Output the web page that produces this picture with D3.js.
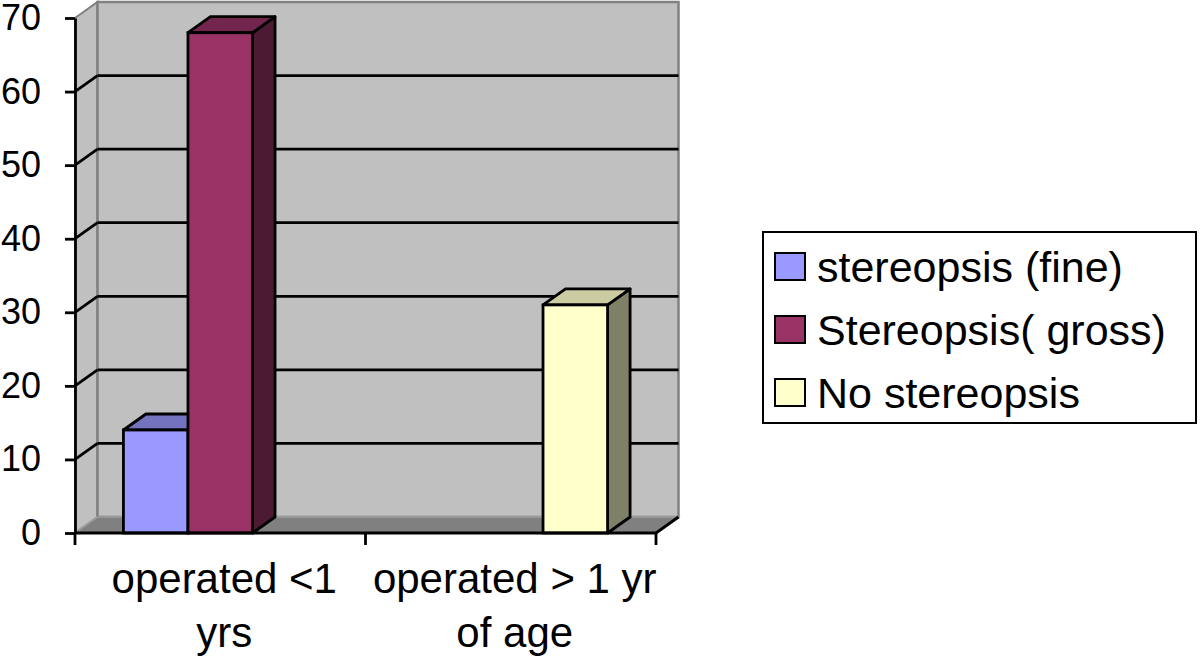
<!DOCTYPE html>
<html>
<head>
<meta charset="utf-8">
<script src="https://cdn.jsdelivr.net/npm/d3@7"></script>
<style>
  body { margin: 0; background: #fff; }
  text { font-family: "Liberation Sans", Arial, sans-serif; fill: #000; }
</style>
</head>
<body>
<script>
// chart data
var categories = ["operated <1 yrs", "operated > 1 yr of age"];
var categoryLines = [["operated <1", "yrs"], ["operated > 1 yr", "of age"]];
var seriesNames = ["stereopsis (fine)", "Stereopsis( gross)", "No stereopsis"];
var fineValues = [14, 0];
var grossValues = [68, 0];
var noValues = [0, 31];
var yTicks = [0, 10, 20, 30, 40, 50, 60, 70];

// colours: front, top, side
var colors = [
  {front: "#9999ff", top: "#7373bf", side: "#4d4d80"},
  {front: "#993366", top: "#73264d", side: "#4d1a33"},
  {front: "#ffffcc", top: "#cccca3", side: "#808066"}
];

var width = 1200, height = 662;
var plotLeft = 75, plotRight = 656, plotBottom = 533, plotTop = 18;
var dx = 22.5, dy = -16;   // depth offset of the 3d box
var lw = 2.8;              // black line width

var svg = d3.select("body").append("svg")
    .attr("width", width)
    .attr("height", height);

var y = d3.scaleLinear().domain([0, 70]).range([plotBottom, plotTop]);
var x0 = d3.scaleBand().domain(categories).range([plotLeft, plotRight]).padding(0);
var x1 = d3.scaleBand().domain(seriesNames).range([0, x0.bandwidth()])
    .paddingInner(0).paddingOuter(0.75);

// walls
svg.append("polygon")
    .attr("points", [[plotLeft, y(70)], [plotLeft + dx, y(70) + dy], [plotLeft + dx, plotBottom + dy], [plotLeft, plotBottom]].join(" "))
    .attr("fill", "#c0c0c0").attr("stroke", "#808080").attr("stroke-width", 2);
svg.append("rect")
    .attr("x", plotLeft + dx).attr("y", y(70) + dy)
    .attr("width", plotRight - plotLeft).attr("height", plotBottom - y(70))
    .attr("fill", "#c0c0c0").attr("stroke", "#808080").attr("stroke-width", 2.5);

// floor
svg.append("polygon")
    .attr("points", [[plotLeft, plotBottom], [plotLeft + dx, plotBottom + dy], [plotRight + dx, plotBottom + dy], [plotRight, plotBottom]].join(" "))
    .attr("fill", "#808080").attr("stroke", "#a0a0a0").attr("stroke-width", 1.5);
svg.append("line")
    .attr("x1", plotRight).attr("y1", plotBottom).attr("x2", plotRight + dx).attr("y2", plotBottom + dy)
    .attr("stroke", "#000").attr("stroke-width", lw);

// gridlines (back wall + side wall diagonals)
var grid = svg.append("g");
yTicks.filter(function(t) { return t > 0 && t < 70; }).forEach(function(t) {
  grid.append("line")
      .attr("x1", plotLeft + dx).attr("x2", plotRight + dx)
      .attr("y1", y(t) + dy).attr("y2", y(t) + dy)
      .attr("stroke", "#000").attr("stroke-width", lw);
  grid.append("line")
      .attr("x1", plotLeft).attr("x2", plotLeft + dx)
      .attr("y1", y(t)).attr("y2", y(t) + dy)
      .attr("stroke", "#000").attr("stroke-width", lw);
});

// bars
var allValues = [fineValues, grossValues, noValues];
var bars = [];
categories.forEach(function(c, i) {
  seriesNames.forEach(function(s, j) {
    if (allValues[j][i] > 0) bars.push({cat: c, series: s, idx: j, value: allValues[j][i]});
  });
});

var bar = svg.selectAll(".bar").data(bars).enter().append("g").attr("class", "bar");
function bx(d) { return x0(d.cat) + x1(d.series); }
var w = x1.bandwidth();

bar.append("polygon") // side
    .attr("points", function(d) {
      var xa = bx(d) + w, yt = y(d.value);
      return [[xa, yt], [xa + dx, yt + dy], [xa + dx, plotBottom + dy], [xa, plotBottom]].join(" ");
    })
    .attr("fill", function(d) { return colors[d.idx].side; })
    .attr("stroke", "#000").attr("stroke-width", lw).attr("stroke-linejoin", "round");
bar.append("polygon") // top
    .attr("points", function(d) {
      var xa = bx(d), yt = y(d.value);
      return [[xa, yt], [xa + dx, yt + dy], [xa + w + dx, yt + dy], [xa + w, yt]].join(" ");
    })
    .attr("fill", function(d) { return colors[d.idx].top; })
    .attr("stroke", "#000").attr("stroke-width", lw).attr("stroke-linejoin", "round");
bar.append("rect") // front
    .attr("x", bx)
    .attr("y", function(d) { return y(d.value); })
    .attr("width", w)
    .attr("height", function(d) { return plotBottom - y(d.value); })
    .attr("fill", function(d) { return colors[d.idx].front; })
    .attr("stroke", "#000").attr("stroke-width", lw);

// y axis
var yAxis = svg.append("g")
    .attr("transform", "translate(" + plotLeft + ",0)")
    .call(d3.axisLeft(y).tickValues(yTicks).tickSize(10).tickSizeOuter(0).tickPadding(24));
yAxis.select(".domain").attr("stroke", "#000").attr("stroke-width", lw);
yAxis.selectAll(".tick line").attr("stroke", "#000").attr("stroke-width", lw);
yAxis.selectAll(".tick text")
    .style("font-family", "'Liberation Sans', Arial, sans-serif")
    .style("font-size", "36px").attr("fill", "#000");

// x axis line + ticks at category boundaries
svg.append("line")
    .attr("x1", plotLeft).attr("x2", plotRight).attr("y1", plotBottom).attr("y2", plotBottom)
    .attr("stroke", "#000").attr("stroke-width", lw);
var bounds = categories.map(function(c) { return x0(c); }).concat([plotRight]);
svg.selectAll(".xtick").data(bounds).enter().append("line")
    .attr("x1", function(d) { return d; }).attr("x2", function(d) { return d; })
    .attr("y1", plotBottom).attr("y2", plotBottom + 12)
    .attr("stroke", "#000").attr("stroke-width", lw);

// category labels
categories.forEach(function(c, i) {
  var t = svg.append("text")
      .attr("text-anchor", "middle")
      .style("font-size", "42px");
  categoryLines[i].forEach(function(line, k) {
    t.append("tspan")
        .attr("x", x0(c) + x0.bandwidth() / 2 + 4)
        .attr("y", 593 + k * 54)
        .text(line);
  });
});

// legend
var legend = svg.append("g").attr("transform", "translate(763,232)");
legend.append("rect")
    .attr("width", 433).attr("height", 191)
    .attr("fill", "#fff").attr("stroke", "#000").attr("stroke-width", 2);
var item = legend.selectAll(".item").data(seriesNames).enter().append("g")
    .attr("transform", function(d, i) { return "translate(0," + (34.5 + i * 63) + ")"; });
item.append("rect")
    .attr("x", 12).attr("y", -13.5).attr("width", 30).attr("height", 27)
    .attr("fill", function(d, i) { return colors[i].front; })
    .attr("stroke", "#000").attr("stroke-width", 2);
item.append("text")
    .attr("x", 54).attr("dy", "0.35em")
    .style("font-size", "43px")
    .text(function(d) { return d; });
</script>
</body>
</html>
